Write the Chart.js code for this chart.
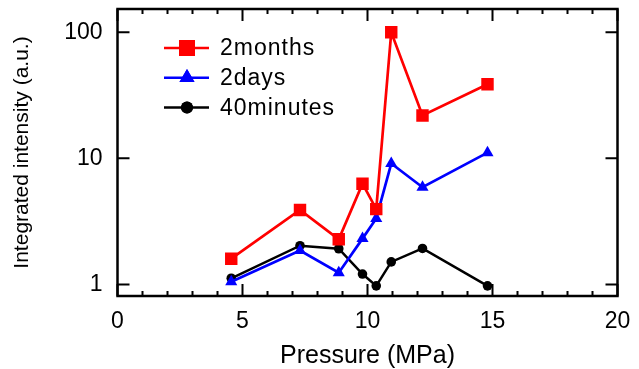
<!DOCTYPE html>
<html>
<head>
<meta charset="utf-8">
<script src="https://cdn.jsdelivr.net/npm/chart.js@4"></script>
<style>
    body { margin: 0; background: #fff; }
    #wrap { width: 639px; height: 369px; }
</style>
</head>
<body>
<div id="wrap"><canvas id="intensityChart" width="639" height="369"></canvas></div>
<script>
// data
const pressure = [4.55, 7.3, 8.85, 9.8, 10.35, 10.95, 12.2, 14.8];
const months2 = [1.6, 3.9, 2.28, 6.3, 3.96, 100, 21.9, 38.7];
const days2 = [1.05, 1.86, 1.24, 2.31, 3.34, 9.1, 5.9, 11.1];
const minutes40 = [1.12, 2.03, 1.92, 1.21, 0.975, 1.51, 1.93, 0.975];
const seriesNames = ['2months', '2days', '40minutes'];
const xTicks = [0, 5, 10, 15, 20];
const yTicks = [1, 10, 100];

function pts(ys) {
    return pressure.map(function (p, i) { return { x: p, y: ys[i] }; });
}

const FONT = "'Liberation Sans', Arial, sans-serif";
Chart.defaults.font.family = FONT;
Chart.defaults.color = '#000';

// frame with inward ticks on all four sides
const framePlugin = {
    id: 'frame',
    afterDatasetsDraw: function (chart) {
        const ctx = chart.ctx;
        const a = chart.chartArea;
        const xs = chart.scales.x;
        const ys = chart.scales.y;
        ctx.save();
        ctx.strokeStyle = '#000';
        ctx.lineWidth = 2;
        ctx.beginPath();
        for (let v = xs.min; v <= xs.max; v++) {
            const px = xs.getPixelForValue(v);
            const len = xTicks.indexOf(v) >= 0 ? 12 : 5;
            ctx.moveTo(px, a.bottom); ctx.lineTo(px, a.bottom - len);
            ctx.moveTo(px, a.top); ctx.lineTo(px, a.top + len);
        }
        yTicks.forEach(function (v) {
            const py = ys.getPixelForValue(v);
            ctx.moveTo(a.left, py); ctx.lineTo(a.left + 12, py);
            ctx.moveTo(a.right, py); ctx.lineTo(a.right - 12, py);
        });
        ctx.stroke();
        ctx.lineWidth = 2.5;
        ctx.strokeRect(a.left, a.top, a.right - a.left, a.bottom - a.top);
        ctx.restore();
    }
};

// legend inside the plot, line + bigger marker + label
const legendPlugin = {
    id: 'innerLegend',
    afterDraw: function (chart) {
        const ctx = chart.ctx;
        const sizes = [11.3, 8.7, 6];
        ctx.save();
        chart.data.datasets.forEach(function (ds, i) {
            const y = 48 + i * 29.7;
            ctx.strokeStyle = ds.borderColor;
            ctx.lineWidth = 2.5;
            ctx.beginPath();
            ctx.moveTo(164, y); ctx.lineTo(209, y);
            ctx.stroke();
            ctx.fillStyle = ds.backgroundColor;
            Chart.helpers.drawPoint(ctx, {
                pointStyle: ds.pointStyle, radius: sizes[i], rotation: 0, borderWidth: 0
            }, 187, y);
            ctx.fill();
            ctx.fillStyle = '#000';
            ctx.font = '23px ' + FONT;
            ctx.letterSpacing = '1px';
            ctx.textBaseline = 'middle';
            ctx.fillText(ds.label, 220, y + 1);
        });
        ctx.restore();
    }
};

new Chart(document.getElementById('intensityChart'), {
    type: 'line',
    data: {
        datasets: [
            {
                label: seriesNames[0], data: pts(months2),
                borderColor: '#ff0000', backgroundColor: '#ff0000',
                pointStyle: 'rect', pointRadius: 8.8, borderWidth: 2.7, pointBorderWidth: 0
            },
            {
                label: seriesNames[1], data: pts(days2),
                borderColor: '#0000ff', backgroundColor: '#0000ff',
                pointStyle: 'triangle', pointRadius: 7, borderWidth: 2.7, pointBorderWidth: 0
            },
            {
                label: seriesNames[2], data: pts(minutes40),
                borderColor: '#000000', backgroundColor: '#000000',
                pointStyle: 'circle', pointRadius: 4.8, borderWidth: 2.5, pointBorderWidth: 0
            }
        ]
    },
    options: {
        responsive: false,
        animation: false,
        devicePixelRatio: 1,
        layout: { padding: { left: 10, top: 9, right: 21.5, bottom: 0 } },
        plugins: { legend: { display: false }, tooltip: { enabled: false } },
        scales: {
            x: {
                type: 'linear', min: 0, max: 20,
                grid: { display: false, drawTicks: false },
                border: { display: false },
                afterBuildTicks: function (s) { s.ticks = xTicks.map(function (v) { return { value: v }; }); },
                afterFit: function (s) { s.height = 73; s.paddingLeft = 0; s.paddingRight = 0; },
                ticks: { font: { size: 23 }, padding: 12, maxRotation: 0, color: '#000' },
                title: { display: true, text: 'Pressure (MPa)', font: { size: 25 }, padding: { top: 0, bottom: -2 }, color: '#000' }
            },
            y: {
                type: 'logarithmic', min: 0.81, max: 153,
                grid: { display: false, drawTicks: false },
                border: { display: false },
                afterBuildTicks: function (s) { s.ticks = yTicks.map(function (v) { return { value: v }; }); },
                afterFit: function (s) { s.width = 107.5; s.paddingTop = 0; s.paddingBottom = 0; },
                ticks: {
                    font: { size: 23 }, padding: 15, color: '#000',
                    callback: function (v) { return String(v); }
                },
                title: { display: true, text: 'Integrated intensity (a.u.)', font: { size: 21 }, padding: 0, color: '#000' }
            }
        }
    },
    plugins: [framePlugin, legendPlugin]
});
</script>
</body>
</html>
